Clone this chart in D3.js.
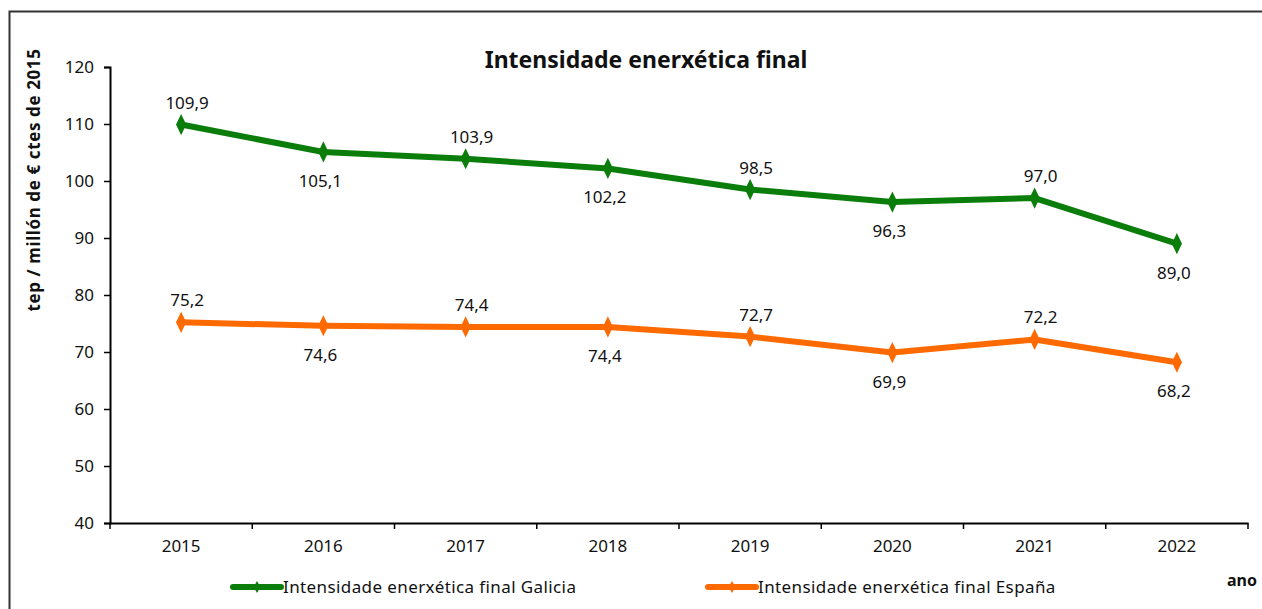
<!DOCTYPE html>
<html>
<head>
<meta charset="utf-8">
<script src="https://cdn.jsdelivr.net/npm/d3@7"></script>
<style>
  body { margin: 0; background: #fff; }
  svg text { font-family: "Noto Sans", "Open Sans", sans-serif; fill: #111; }
</style>
</head>
<body>
<div id="chart"></div>
<script>
// data
const years = ["2015", "2016", "2017", "2018", "2019", "2020", "2021", "2022"];
const galicia = [109.9, 105.1, 103.9, 102.2, 98.5, 96.3, 97.0, 89.0];
const espana = [75.2, 74.6, 74.4, 74.4, 72.7, 69.9, 72.2, 68.2];
const yTicks = [40, 50, 60, 70, 80, 90, 100, 110, 120];
const seriesNames = ["Intensidade enerxética final Galicia", "Intensidade enerxética final España"];

const width = 1262, height = 609;
const margin = {left: 110, right: 14, top: 67, bottom: 86};

const svg = d3.select("#chart")
              .append("svg")
              .attr("width", width)
              .attr("height", height);

// outer frame
svg.append("path")
   .attr("d", `M9.5,${height} V11.5 H${width}`)
   .attr("fill", "none")
   .attr("stroke", "#333")
   .attr("stroke-width", 2);

const x = d3.scaleBand()
            .domain(years)
            .range([margin.left, width - margin.right]);

const y = d3.scaleLinear()
            .domain([40, 120])
            .range([height - margin.bottom, margin.top]);

// y axis
const yAxis = svg.append("g")
   .attr("transform", `translate(${margin.left},0)`)
   .call(d3.axisLeft(y).tickValues(yTicks).tickSize(6).tickPadding(10));
yAxis.select(".domain").attr("stroke", "#000").attr("stroke-width", 2);
yAxis.selectAll(".tick line").attr("stroke", "#000").attr("stroke-width", 1.5);
yAxis.selectAll("text").style("font-size", "17px").attr("fill", "#111");

// x axis with ticks at category boundaries
const xAxisG = svg.append("g")
   .attr("transform", `translate(0,${height - margin.bottom})`)
   .call(d3.axisBottom(x).tickSize(0).tickPadding(17));
xAxisG.select(".domain").attr("stroke", "#000").attr("stroke-width", 2);
xAxisG.selectAll("text").style("font-size", "17px").attr("fill", "#111");
xAxisG.selectAll(".boundary")
   .data(years.concat(["end"]))
   .enter()
   .append("line")
   .attr("x1", (d, i) => i < years.length ? x(d) : x(years[years.length - 1]) + x.bandwidth())
   .attr("x2", (d, i) => i < years.length ? x(d) : x(years[years.length - 1]) + x.bandwidth())
   .attr("y1", 0)
   .attr("y2", 6)
   .attr("stroke", "#000")
   .attr("stroke-width", 1.5);

// title
svg.append("text")
   .attr("x", 646)
   .attr("y", 68)
   .attr("text-anchor", "middle")
   .style("font-size", "23px")
   .style("font-weight", "bold")
   .text("Intensidade enerxética final");

// y axis label
svg.append("text")
   .attr("transform", "translate(40,180) rotate(-90)")
   .attr("text-anchor", "middle")
   .style("font-size", "17px")
   .style("font-weight", "bold")
   .style("letter-spacing", "0.6px")
   .text("tep / millón de € ctes de 2015");

// x axis label
svg.append("text")
   .attr("x", 1257)
   .attr("y", 586)
   .attr("text-anchor", "end")
   .style("font-size", "16px")
   .style("font-weight", "bold")
   .text("ano");

const fmt = v => v.toFixed(1).replace(".", ",");
const line = d3.line()
               .x((d, i) => x(years[i]) + x.bandwidth() / 2)
               .y(d => y(d));
const diamond = d3.symbol().type(d3.symbolDiamond).size(90);

const series = [
  {name: seriesNames[0], values: galicia, color: "#0a7d0a"},
  {name: seriesNames[1], values: espana, color: "#ff6a00"}
];

series.forEach(s => {
  svg.append("path")
     .datum(s.values)
     .attr("d", line)
     .attr("fill", "none")
     .attr("stroke", s.color)
     .attr("stroke-width", 6)
     .attr("stroke-linejoin", "round");

  svg.selectAll(null)
     .data(s.values)
     .enter()
     .append("path")
     .attr("d", diamond)
     .attr("transform", (d, i) => `translate(${x(years[i]) + x.bandwidth() / 2},${y(d)}) scale(1,1.2)`)
     .attr("fill", s.color);

  // labels alternate above / below
  svg.selectAll(null)
     .data(s.values)
     .enter()
     .append("text")
     .attr("x", (d, i) => x(years[i]) + x.bandwidth() / 2 + (i % 2 === 0 ? 6 : -3))
     .attr("y", (d, i) => i % 2 === 0 ? y(d) - 16 : y(d) + 35)
     .attr("text-anchor", "middle")
     .style("font-size", "17px")
     .text(d => fmt(d));
});

// legend
const legendPos = [233, 708];
series.forEach((s, i) => {
  const g = svg.append("g").attr("transform", `translate(${legendPos[i]},587)`);
  g.append("line")
   .attr("x1", 0).attr("x2", 48)
   .attr("y1", 0).attr("y2", 0)
   .attr("stroke", s.color)
   .attr("stroke-width", 6)
   .attr("stroke-linecap", "round");
  g.append("path")
   .attr("d", d3.symbol().type(d3.symbolDiamond).size(40))
   .attr("transform", "translate(24,0)")
   .attr("fill", s.color);
  g.append("text")
   .attr("x", 50)
   .attr("y", 6)
   .style("font-size", "17px")
   .style("letter-spacing", "0.4px")
   .text(s.name);
});
</script>
</body>
</html>
